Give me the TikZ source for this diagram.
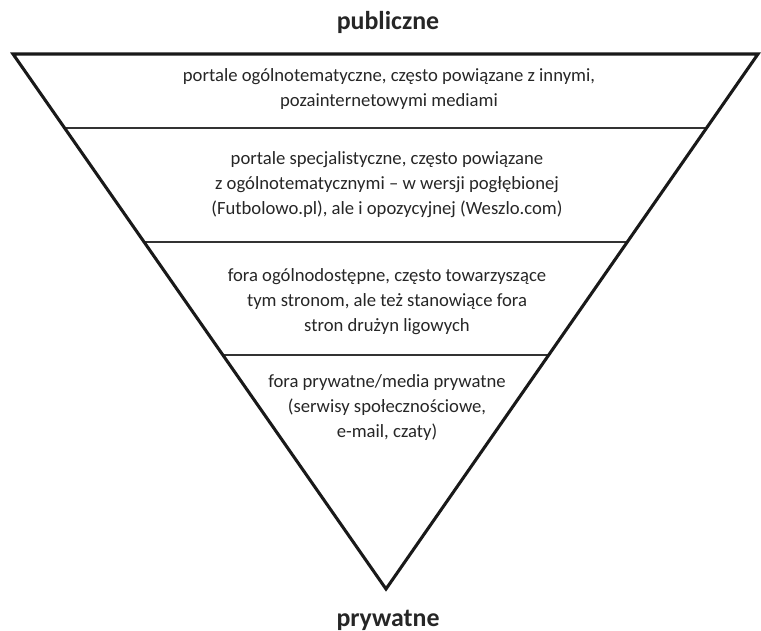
\documentclass[tikz,border=0pt]{standalone}
\usepackage{fontspec}
\setmainfont{Carlito}
\usetikzlibrary{calc}
\begin{document}
\begin{tikzpicture}[x=0.75pt,y=-0.75pt, font=\fontsize{14}{18.75}\selectfont,
  lvl/.style={align=center,inner sep=0pt,text=black!85},
  tag/.style={font=\fontsize{19.4}{22}\selectfont\bfseries,inner sep=0pt,text=black!85}]
  \useasboundingbox (0,0) rectangle (761,631);
  \coordinate (tl) at (13,54); \coordinate (tr) at (758,54); \coordinate (ap) at (386,589);
  % dividing lines
  \foreach \t in {0.1383,0.3514,0.5626}
    \draw[line width=1.1pt,black!80] ($(tl)!\t!(ap)$) -- ($(tr)!\t!(ap)$);
  \draw[line width=2.3pt,line join=miter,black!90] (tl) -- (tr) -- (ap) -- cycle;
  \node[tag] (pub) at (388,22) {publiczne};
  \node[tag] (pry) at (388,620) {prywatne};
  \node[lvl] (l1) at (389,89) {portale ogólnotematyczne, często powiązane z innymi,\\pozainternetowymi mediami};
  \node[lvl] (l2) at (387,185) {portale specjalistyczne, często powiązane\\z ogólnotematycznymi -- w wersji pogłębionej\\(Futbolowo.pl), ale i opozycyjnej (Weszlo.com)};
  \node[lvl] (l3) at (387,302) {fora ogólnodostępne, często towarzyszące\\tym stronom, ale też stanowiące fora\\stron drużyn ligowych};
  \node[lvl] (l4) at (387,408) {fora prywatne/media prywatne\\(serwisy społecznościowe,\\e-mail, czaty)};
\end{tikzpicture}
\end{document}
